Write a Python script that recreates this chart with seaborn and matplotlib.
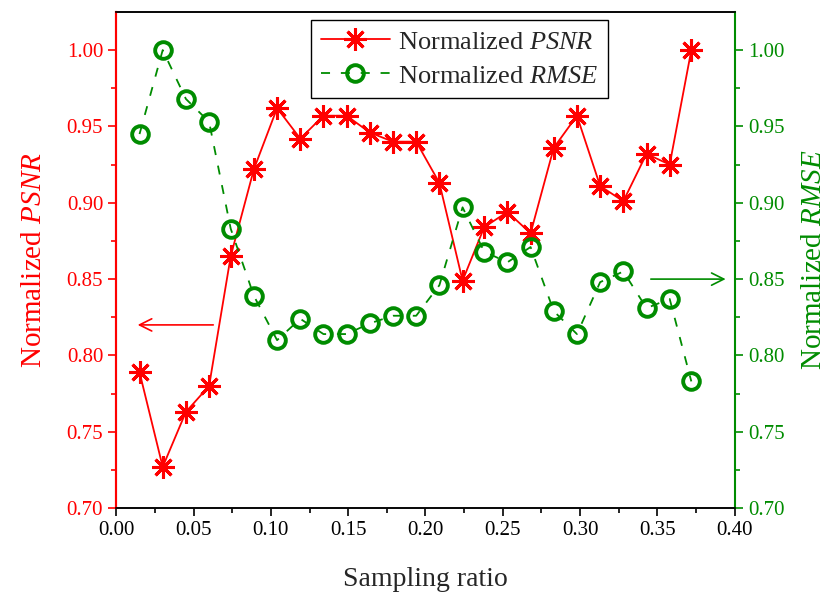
import matplotlib
matplotlib.use("Agg")
import matplotlib.pyplot as plt
import seaborn as sns

# Data
sampling_ratio = [0.015, 0.030, 0.045, 0.060, 0.074, 0.089, 0.104, 0.119, 0.134,
                  0.149, 0.164, 0.179, 0.194, 0.209, 0.224, 0.238, 0.253, 0.268,
                  0.283, 0.298, 0.313, 0.328, 0.343, 0.358, 0.372]
norm_psnr = [0.789, 0.727, 0.763, 0.780, 0.865, 0.922, 0.962, 0.942, 0.957,
             0.957, 0.946, 0.940, 0.940, 0.913, 0.849, 0.884, 0.894, 0.880,
             0.936, 0.957, 0.911, 0.901, 0.932, 0.925, 1.000]
norm_rmse = [0.945, 1.000, 0.968, 0.953, 0.883, 0.839, 0.810, 0.824, 0.814,
             0.814, 0.821, 0.826, 0.826, 0.846, 0.897, 0.868, 0.861, 0.871,
             0.829, 0.814, 0.848, 0.855, 0.831, 0.837, 0.783]
y_ticks = [0.70, 0.75, 0.80, 0.85, 0.90, 0.95, 1.00]
x_ticks = [0.00, 0.05, 0.10, 0.15, 0.20, 0.25, 0.30, 0.35, 0.40]

sns.set_style("ticks")
plt.rcParams['font.family'] = ['Liberation Serif', 'DejaVu Serif']
plt.rcParams['mathtext.fontset'] = 'custom'
plt.rcParams['mathtext.rm'] = 'Liberation Serif'
plt.rcParams['mathtext.it'] = 'Liberation Serif:italic'

red = '#ff0000'
green = '#008c00'

fig, ax = plt.subplots(figsize=(8.31, 5.95), dpi=100)
fig.subplots_adjust(left=0.14, right=0.884, top=0.98, bottom=0.146)
ax2 = ax.twinx()

sns.lineplot(x=sampling_ratio, y=norm_psnr, ax=ax, color=red, linewidth=1.3,
             marker=(8, 2, 0), markersize=16, markeredgewidth=2.2,
             markeredgecolor=red, label='Normalized $\\it{PSNR}$', legend=False)
sns.lineplot(x=sampling_ratio, y=norm_rmse, ax=ax2, color=green, linewidth=1.3,
             linestyle=(0, (5, 6)), marker='o', markersize=12, markeredgewidth=2.8,
             markerfacecolor='none', markeredgecolor=green,
             label='Normalized $\\it{RMSE}$', legend=False)

for a in (ax, ax2):
    a.set_xlim(0, 0.40)
    a.set_ylim(0.70, 1.025)
    a.set_yticks(y_ticks)
    a.set_yticks([0.725, 0.775, 0.825, 0.875, 0.925, 0.975], minor=True)

ax.set_xticks(x_ticks)
ax.set_xticks([0.025, 0.075, 0.125, 0.175, 0.225, 0.275, 0.325, 0.375], minor=True)
ax.set_xticklabels([f"{v:.2f}" for v in x_ticks])
ax.set_yticklabels([f"{v:.2f}" for v in y_ticks])
ax2.set_yticklabels([f"{v:.2f}" for v in y_ticks])

ax.tick_params(axis='x', which='both', direction='out', colors='black', labelsize=15)
ax.tick_params(axis='x', which='major', length=6, width=1.2, pad=3)
ax.tick_params(axis='x', which='minor', length=3.5, width=1.2)
ax.tick_params(axis='y', which='both', direction='out', colors=red, labelsize=15)
ax.tick_params(axis='y', which='major', length=6, width=1.2)
ax.tick_params(axis='y', which='minor', length=3.5, width=1.2)
ax2.tick_params(axis='y', which='both', direction='out', colors=green, labelsize=15)
ax2.tick_params(axis='y', which='major', length=6, width=1.2)
ax2.tick_params(axis='y', which='minor', length=3.5, width=1.2)

for s in ('top', 'bottom'):
    ax2.spines[s].set_color('black')
    ax2.spines[s].set_linewidth(1.2)
ax2.spines['left'].set_color(red)
ax2.spines['left'].set_linewidth(1.5)
ax2.spines['right'].set_color(green)
ax2.spines['right'].set_linewidth(1.5)
ax.spines['left'].set_color(red)
ax.spines['left'].set_linewidth(1.5)
ax.spines['right'].set_visible(False)
ax.spines['top'].set_linewidth(1.2)
ax.spines['bottom'].set_linewidth(1.2)

ax.set_xlabel('Sampling ratio', fontsize=20, labelpad=20)
ax.set_ylabel('Normalized $\\it{PSNR}$', fontsize=21, color=red, labelpad=14)
ax2.set_ylabel('Normalized $\\it{RMSE}$', fontsize=21, color=green, labelpad=12)

ax.annotate('', xy=(0.012, 0.82), xytext=(0.0645, 0.82),
            arrowprops=dict(arrowstyle='->', color=red, lw=1.2, mutation_scale=22))
ax2.annotate('', xy=(0.396, 0.85), xytext=(0.344, 0.85),
             arrowprops=dict(arrowstyle='->', color=green, lw=1.2, mutation_scale=22))

h1, l1 = ax.get_legend_handles_labels()
h2, l2 = ax2.get_legend_handles_labels()
leg = ax2.legend(h1 + h2, l1 + l2, loc='upper center', bbox_to_anchor=(0.555, 0.995),
                 fontsize=19, frameon=True, fancybox=False, framealpha=1,
                 edgecolor='black', borderpad=0.4, handlelength=2.6,
                 labelspacing=0.4, handletextpad=0.3, borderaxespad=0.2)
leg.get_frame().set_linewidth(1.0)

fig.savefig('out.png', dpi=100)
